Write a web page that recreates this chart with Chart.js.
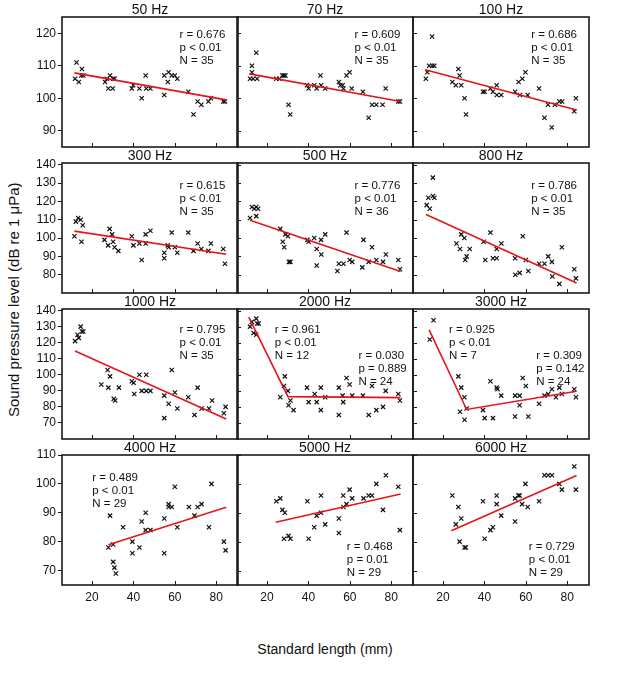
<!DOCTYPE html>
<html><head><meta charset="utf-8">
<script src="https://cdn.jsdelivr.net/npm/chart.js@4.4.1/dist/chart.umd.min.js"></script>
<style>
html,body{margin:0;padding:0;background:#fff;}
body{width:632px;height:691px;position:relative;overflow:hidden;font-family:"Liberation Sans",Arial,sans-serif;color:#111;}
canvas{position:absolute;}
.ttl{position:absolute;text-align:center;font-size:14px;line-height:16px;height:16px;white-space:nowrap;}
.axt{position:absolute;font-size:14px;font-weight:normal;color:#111;white-space:nowrap;}
#ytitle{font-size:15px;line-height:16px;width:16px;height:236px;writing-mode:vertical-rl;text-align:center;transform:rotate(180deg);left:6px;top:182px;}
</style></head><body>
<div class="axt" id="ytitle">Sound pressure level (dB re 1 μPa)</div>
<script>
// ---------- DATA ----------
const panelTitles = ['50 Hz','70 Hz','100 Hz','300 Hz','500 Hz','800 Hz','1000 Hz','2000 Hz','3000 Hz','4000 Hz','5000 Hz','6000 Hz'];
const xTickLabels = [20, 40, 60, 80];
const yTicksRow1 = [90, 100, 110, 120];
const yTicksRow2 = [80, 90, 100, 110, 120, 130, 140];
const yTicksRow3 = [70, 80, 90, 100, 110, 120, 130, 140];
const yTicksRow4 = [70, 80, 90, 100, 110];

const sl50 = [11.8,12.5,13.6,15.1,14.8,15.8,26.3,27.2,28.7,27.9,30.0,30.2,30.9,39.2,39.9,42.9,44.0,45.9,46.2,48.2,54.9,54.9,56.6,57.0,58.5,60.0,61.2,66.5,69.0,71.0,72.8,76.2,77.4,83.4,84.2];
const spl50 = [106,111,105,109,107,107,105,106,107,103,103,106,106,103,104,103,100,107,103,103,107,101,105,108,107,107,106,102,95,99,98,99,100,99,99];
const sl70 = [14.8,12.7,12.7,11.8,13.3,15.2,24.5,26.0,27.4,28.2,28.9,30.4,31.2,39.3,40.1,42.8,44.0,45.8,46.1,48.1,54.7,55.4,56.9,56.5,58.4,59.9,60.9,66.3,69.1,70.7,72.8,75.8,77.3,83.4,84.2];
const spl70 = [114,110,108,106,106,106,106,106,107,107,107,98,95,104,103,104,103,107,104,103,105,104,103,104,107,108,103,102,94,98,98,98,103,99,99];
const sl100 = [14.7,11.7,12.4,13.3,14.8,15.8,27.4,28.0,24.5,26.2,28.8,30.4,31.1,39.3,40.1,42.9,44.1,45.9,46.0,48.1,54.8,56.5,57.1,58.3,59.8,60.9,66.4,69.0,70.7,72.5,74.0,76.2,77.5,83.4,84.2];
const spl100 = [119,106,108,110,110,110,109,107,105,104,104,100,95,102,102,103,102,104,101,101,102,105,101,106,108,101,103,94,98,91,98,99,99,96,100];
const sl300 = [11.5,12.2,13.3,14.5,14.9,15.5,26.0,27.8,28.5,29.7,30.2,30.9,32.7,39.2,40.0,42.9,44.0,45.9,45.9,48.2,54.9,54.9,56.6,57.0,58.5,60.0,61.2,66.5,69.0,71.0,72.8,76.2,77.4,83.4,84.2];
const spl300 = [101,109,111,110,98,107,99,96,105,102,98,95,93,101,96,97,88,97,102,104,92,89,96,95,103,95,92,103,93,97,94,93,97,94,86];
const sl500 = [11.8,12.7,13.8,14.8,15.7,14.8,26.4,28.9,30.1,27.6,28.3,30.6,31.3,39.5,40.1,42.8,44.0,46.1,46.2,48.1,54.7,56.9,58.4,59.9,61.1,66.6,69.1,70.7,72.8,76.0,77.4,54.0,83.4,84.2,66.0,44.0];
const spl500 = [111,117,116,117,116,112,105,102,101,98,95,87,87,99,98,100,94,99,91,102,86,86,103,88,87,99,87,95,88,87,91,82,88,83,84,85];
const sl800 = [15.1,12.9,15.1,15.8,12.1,13.6,28.8,30.3,26.5,28.2,32.9,31.4,30.7,39.6,40.4,42.9,44.1,45.9,45.9,48.2,54.8,60.0,58.5,57.0,61.2,66.4,69.0,70.8,72.6,54.9,76.2,77.4,72.8,83.4,84.2];
const spl800 = [133,122,123,122,118,116,102,100,97,94,94,90,88,98,88,103,89,89,94,97,89,88,101,81,82,86,86,90,87,80,75,95,79,83,78];
const sl1000 = [14.5,13.0,13.6,15.1,15.8,11.8,27.5,28.7,24.5,27.9,33.0,30.5,31.2,39.2,40.1,42.9,46.2,44.0,46.2,48.2,58.5,54.9,60.0,66.5,71.0,57.0,61.2,54.9,69.5,78.0,72.9,76.5,83.7,84.5,40.4];
const spl1000 = [130,125,123,127,127,121,103,99,94,92,92,85,84,96,95,100,100,90,90,90,103,87,89,86,92,82,79,73,75,84,79,79,76,80,88];
const sl2000 = [14.8,12.7,11.8,15.2,16.0,13.5,14.8,28.6,28.2,30.1,26.4,31.3,39.3,43.0,46.0,48.1,54.7,58.4,59.9,56.5,61.1,66.3,70.7,77.3,30.4,32.8,40.1,44.0,46.0,54.7,56.8,69.1,72.8,76.0,83.4,84.2];
const spl2000 = [135,133,130,132,132,126,125,99,93,90,86,84,92,88,92,86,92,98,94,87,87,87,93,90,81,78,83,83,78,75,83,75,78,80,88,84];
const sl3000 = [15.4,13.6,27.4,28.8,30.3,28.2,30.4,42.9,45.9,46.3,48.1,54.8,57.0,58.5,60.0,69.0,70.8,72.6,31.4,39.3,40.1,44.1,57.0,54.8,61.2,66.4,76.2,77.4,83.4,84.2,74.5];
const spl3000 = [134,122,99,92,86,77,72,96,92,91,87,87,87,98,93,87,88,91,79,78,73,73,81,74,74,82,92,88,91,86,86];
const sl4000 = [28.7,27.9,30.2,35.0,39.5,42.9,44.0,45.9,45.9,48.2,54.9,57.0,57.0,58.5,60.0,61.2,66.8,69.5,71.0,72.9,76.5,77.7,83.7,30.2,30.8,31.5,39.5,84.5,54.9];
const spl4000 = [89,78,79,85,80,78,87,90,84,84,88,93,92,92,99,85,92,89,92,93,85,100,80,73,71,69,76,77,76];
const sl5000 = [24.5,26.4,27.4,28.6,28.2,30.4,31.3,39.5,40.1,42.8,44.0,46.1,46.1,48.1,54.7,54.7,56.8,56.9,58.4,59.9,61.1,66.6,69.1,70.7,72.8,76.0,77.4,83.4,84.2];
const spl5000 = [94,95,91,90,81,82,81,94,81,85,89,90,96,86,88,83,96,92,93,98,95,95,96,96,100,91,103,99,84];
const sl6000 = [24.5,27.4,28.8,26.2,28.0,30.4,31.0,39.3,40.1,42.9,44.1,45.9,45.9,48.1,54.8,54.8,56.4,57.0,58.2,59.8,60.9,66.4,69.0,70.8,72.6,76.2,77.4,83.4,84.2];
const spl6000 = [96,92,88,86,80,78,78,94,81,84,85,96,93,89,95,87,96,96,93,100,92,94,103,103,103,100,98,106,98];

// fitted regression lines (x and y of line vertices)
const fitX50 = [11.5, 84.8],  fitY50 = [107.8, 99.5];
const fitX70 = [11.5, 84.5],  fitY70 = [107.5, 99.0];
const fitX100 = [11.4, 84.5], fitY100 = [108.8, 96.4];
const fitX300 = [11.5, 84.8], fitY300 = [103.8, 91.2];
const fitX500 = [11.8, 84.5], fitY500 = [109.7, 81.8];
const fitX800 = [11.8, 84.5], fitY800 = [112.9, 75.5];
const fitX1000 = [11.8, 84.8], fitY1000 = [114.8, 72.5];
const fitX2000 = [11.2, 30.1, 84.5], fitY2000 = [136.0, 86.4, 85.8];
const fitX3000 = [13.3, 31.4, 84.5], fitY3000 = [128.0, 78.4, 89.7];
const fitX4000 = [27.9, 84.8], fitY4000 = [78.9, 91.9];
const fitX5000 = [24.2, 84.5], fitY5000 = [86.7, 96.5];
const fitX6000 = [24.0, 84.5], fitY6000 = [83.8, 102.9];

// statistics text
const stats50 = ['r = 0.676','p < 0.01','N = 35'];
const stats70 = ['r = 0.609','p < 0.01','N = 35'];
const stats100 = ['r = 0.686','p < 0.01','N = 35'];
const stats300 = ['r = 0.615','p < 0.01','N = 35'];
const stats500 = ['r = 0.776','p < 0.01','N = 36'];
const stats800 = ['r = 0.786','p < 0.01','N = 35'];
const stats1000 = ['r = 0.795','p < 0.01','N = 35'];
const stats2000a = ['r = 0.961','p < 0.01','N = 12'];
const stats2000b = ['r = 0.030','p = 0.889','N = 24'];
const stats3000a = ['r = 0.925','p < 0.01','N = 7'];
const stats3000b = ['r = 0.309','p = 0.142','N = 24'];
const stats4000 = ['r = 0.489','p < 0.01','N = 29'];
const stats5000 = ['r = 0.468','p = 0.01','N = 29'];
const stats6000 = ['r = 0.729','p < 0.01','N = 29'];

// ---------- LAYOUT ----------
const FONT = '"Liberation Sans", Arial, sans-serif';
const xRange = [5.5, 90.5];
const rowY = [[85,125,yTicksRow1],[70,141,yTicksRow2],[60,141,yTicksRow3],[65,110,yTicksRow4]];
const colLeft = [62, 237, 413], panelW = 176;
const rowTop = [17, 163, 309, 455], panelH = 130;

const panels = [
  [sl50, spl50, fitX50, fitY50, [[stats50,0.668,0.14]]],
  [sl70, spl70, fitX70, fitY70, [[stats70,0.668,0.14]]],
  [sl100, spl100, fitX100, fitY100, [[stats100,0.672,0.14]]],
  [sl300, spl300, fitX300, fitY300, [[stats300,0.668,0.172]]],
  [sl500, spl500, fitX500, fitY500, [[stats500,0.668,0.172]]],
  [sl800, spl800, fitX800, fitY800, [[stats800,0.672,0.172]]],
  [sl1000, spl1000, fitX1000, fitY1000, [[stats1000,0.668,0.162]]],
  [sl2000, spl2000, fitX2000, fitY2000, [[stats2000a,0.215,0.162],[stats2000b,0.69,0.36]]],
  [sl3000, spl3000, fitX3000, fitY3000, [[stats3000a,0.205,0.162],[stats3000b,0.70,0.36]]],
  [sl4000, spl4000, fitX4000, fitY4000, [[stats4000,0.172,0.178]]],
  [sl5000, spl5000, fitX5000, fitY5000, [[stats5000,0.624,0.71]]],
  [sl6000, spl6000, fitX6000, fitY6000, [[stats6000,0.658,0.71]]]
];

const decor = {
  id: 'decor',
  afterDraw(chart, args, o) {
    const ctx = chart.ctx, a = chart.chartArea, xs = chart.scales.x, ys = chart.scales.y;
    ctx.save();
    ctx.strokeStyle = '#1a1a1a';
    ctx.lineWidth = 1;
    xTickLabels.forEach(v => {
      const px = Math.round(xs.getPixelForValue(v)) + 0.5;
      ctx.beginPath(); ctx.moveTo(px, a.bottom); ctx.lineTo(px, a.bottom - 4); ctx.stroke();
    });
    if (o.inwardY) o.yTicks.forEach(v => {
      const py = Math.round(ys.getPixelForValue(v)) + 0.5;
      ctx.beginPath(); ctx.moveTo(a.left, py); ctx.lineTo(a.left + 4, py); ctx.stroke();
    });
    ctx.lineWidth = 1.6;
    ctx.strokeRect(a.left, a.top, a.right - a.left, a.bottom - a.top);
    ctx.fillStyle = '#111';
    ctx.font = '11.5px ' + FONT;
    ctx.textBaseline = 'middle';
    ctx.textAlign = 'left';
    const w = a.right - a.left, h = a.bottom - a.top;
    o.notes.forEach(n => {
      n[0].forEach((t, i) => ctx.fillText(t, a.left + n[1] * w, a.top + (n[2] + i * 0.1) * h));
    });
    ctx.restore();
  }
};

panels.forEach((p, k) => {
  const r = Math.floor(k / 3), c = k % 3;
  const padL = c === 0 ? 40 : 3, padR = 3, padT = c === 0 ? 10 : 3, padB = r === 3 ? 24 : 3;
  const cv = document.createElement('canvas');
  const W = panelW + padL + padR, H = panelH + padT + padB;
  cv.width = W; cv.height = H;
  cv.style.left = (colLeft[c] - padL) + 'px';
  cv.style.top = (rowTop[r] - padT) + 'px';
  cv.style.width = W + 'px'; cv.style.height = H + 'px';
  document.body.appendChild(cv);

  const t = document.createElement('div');
  t.className = 'ttl';
  t.textContent = panelTitles[k];
  t.style.left = colLeft[c] + 'px'; t.style.width = panelW + 'px';
  t.style.top = (rowTop[r] - 16) + 'px';
  document.body.appendChild(t);

  const [yMin, yMax, yTicks] = rowY[r];
  new Chart(cv, {
    data: {
      datasets: [
        { type: 'line', data: p[2].map((x, i) => ({ x, y: p[3][i] })), borderColor: '#e3141c', borderWidth: 1.6,
          pointRadius: 0, fill: false, tension: 0, order: 0 },
        { type: 'scatter', data: p[0].map((x, i) => ({ x, y: p[1][i] })), pointStyle: 'crossRot', pointRadius: 3,
          borderColor: '#111', backgroundColor: '#111', borderWidth: 1.2, order: 1 }
      ]
    },
    options: {
      responsive: false, animation: false, devicePixelRatio: 1,
      layout: { autoPadding: false, padding: { left: 0, right: padR, top: padT, bottom: 0 } },
      plugins: { legend: { display: false }, tooltip: { enabled: false },
        decor: { inwardY: c !== 0, yTicks, notes: p[4] } },
      scales: {
        x: { type: 'linear', min: xRange[0], max: xRange[1],
          afterBuildTicks: s => { s.ticks = xTickLabels.map(v => ({ value: v })); },
          afterFit: s => { s.height = padB; s.paddingLeft = 0; s.paddingRight = 0; },
          grid: { display: false, drawTicks: false }, border: { display: false },
          ticks: { display: r === 3, autoSkip: false, maxRotation: 0, padding: 5, color: '#111', font: { family: FONT, size: 12 } } },
        y: { type: 'linear', min: yMin, max: yMax,
          afterBuildTicks: s => { s.ticks = yTicks.map(v => ({ value: v })); },
          afterFit: s => { s.width = padL; s.paddingTop = 0; s.paddingBottom = 0; },
          grid: { display: c === 0, drawOnChartArea: false, drawTicks: true, tickLength: 4, color: '#1a1a1a' },
          border: { display: false },
          ticks: { display: c === 0, autoSkip: false, padding: 2, color: '#111', font: { family: FONT, size: 12 } } }
      }
    },
    plugins: [decor]
  });
});

const xt = document.createElement('div');
xt.className = 'axt'; xt.textContent = 'Standard length (mm)';
xt.style.left = '0px'; xt.style.width = '650px'; xt.style.textAlign = 'center'; xt.style.top = '641px';
document.body.appendChild(xt);
</script>
</body></html>
